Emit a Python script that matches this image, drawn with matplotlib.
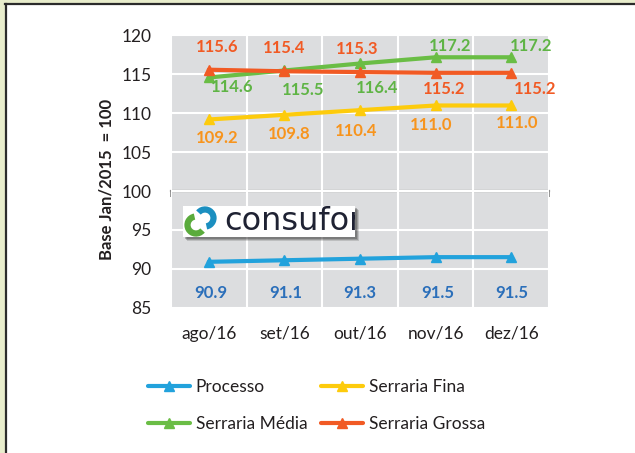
import matplotlib
matplotlib.use("Agg")
import matplotlib.pyplot as plt
from matplotlib.patches import Rectangle, Arc
from matplotlib.lines import Line2D

plt.rcParams['font.family'] = ['Lato', 'DejaVu Sans']

# ---------------- data ----------------
categories = ["ago/16", "set/16", "out/16", "nov/16", "dez/16"]
processo = [90.9, 91.1, 91.3, 91.5, 91.5]
serraria_fina = [109.2, 109.8, 110.4, 111.0, 111.0]
serraria_media = [114.6, 115.5, 116.4, 117.2, 117.2]
serraria_grossa = [115.6, 115.4, 115.3, 115.2, 115.2]
y_ticks = [85, 90, 95, 100, 105, 110, 115, 120]
y_label = "Base Jan/2015  = 100"

# ---------------- styles ----------------
series = [
    ("Processo", processo, "#22a2dc", "#2b6fba",
     [(2, -31), (1, -33), (0, -34), (2, -36), (1, -36)]),
    ("Serraria Fina", serraria_fina, "#fdcb0c", "#f7941d",
     [(8, -19), (5, -19), (-4, -21), (-4, -20), (6, -18)]),
    ("Serraria Média", serraria_media, "#6abd45", "#5fb445",
     [(23, -10), (19, -20), (17, -25), (15, 11), (20, 11)]),
    ("Serraria Grossa", serraria_grossa, "#f15a24", "#f15a24",
     [(8, 23), (0, 23), (-3, 23), (9, -16), (24, -16)]),
]

W, H = 635, 453
fig = plt.figure(figsize=(W / 100, H / 100), dpi=100)
fig.patch.set_facecolor("#e8edcc")

# white panel with dark top/left border
fig.patches.append(Rectangle((5 / W, 0), 1, 1 - 4 / H, transform=fig.transFigure,
                             facecolor="white", edgecolor="none", zorder=-10))
fig.lines.append(Line2D([5.5 / W, 5.5 / W], [0, 1 - 4 / H], transform=fig.transFigure,
                        color="#2b2b2b", lw=1.6, zorder=-9))
fig.lines.append(Line2D([5 / W, 1], [1 - 4.3 / H, 1 - 4.3 / H], transform=fig.transFigure,
                        color="#2b2b2b", lw=1.6, zorder=-9))

ax = fig.add_axes([171 / W, (H - 307.7) / H, (549 - 171) / W, 272.2 / H])
ax.set_facecolor("#dcdddf")
for s in ax.spines.values():
    s.set_visible(False)

x = list(range(len(categories)))
ax.set_xlim(-0.5, len(categories) - 0.5)
ax.set_ylim(85, 120)
ax.set_yticks(y_ticks)
ax.set_xticks(x)
ax.set_xticklabels(categories)
ax.set_xticks([i - 0.5 for i in range(len(categories) + 1)], minor=True)
ax.grid(True, axis="y", which="major", color="white", lw=1.5)
ax.grid(True, axis="x", which="minor", color="white", lw=1.5)
ax.grid(False, axis="x", which="major")
ax.set_axisbelow(True)
ax.tick_params(axis="both", which="both", length=0)
ax.tick_params(axis="y", pad=14, labelsize=12.5, labelcolor="#231f20")
ax.tick_params(axis="x", pad=13, labelsize=12.5, labelcolor="#231f20")
ax.set_ylabel(y_label, fontsize=12, fontweight="bold", color="#231f20")
ax.yaxis.set_label_coords(-0.15, 0.47)

# x axis line at 100 with ticks
sec = ax.secondary_xaxis((100 - 85) / (120 - 85))
sec.set_xticks([i - 0.5 for i in range(len(categories) + 1)])
sec.tick_params(length=4, width=1.3, color="#8c8c8c", labelbottom=False)
sec.spines["bottom"].set_color("#8c8c8c")
sec.spines["bottom"].set_linewidth(1.6)

handles = {}
for name, vals, lc, tc, offs in series:
    ln, = ax.plot(x, vals, color=lc, lw=3.0, marker="^", markersize=7.5,
                  solid_capstyle="round", label=name, zorder=3)
    handles[name] = ln
    for xi, v, (dx, dy) in zip(x, vals, offs):
        ax.annotate(f"{v:.1f}", (xi, v), xytext=(dx * 0.72, dy * 0.72),
                    textcoords="offset points", ha="center", va="center",
                    fontsize=12, fontweight="bold", color=tc, zorder=4)

order = ["Processo", "Serraria Média", "Serraria Fina", "Serraria Grossa"]
fig.legend([handles[n] for n in order], order, ncol=2, loc="upper left",
           bbox_to_anchor=(148 / W, 1 - 379 / H), frameon=False, borderpad=0,
           borderaxespad=0, fontsize=12.5, handlelength=2.4, handletextpad=0.35,
           columnspacing=0.8, labelspacing=1.21, labelcolor="#231f20")

# logo
lx0, ly0, lw_, lh_ = 183, 206, 172, 31
for k, a in ((4, 0.18), (3, 0.25), (2, 0.3)):
    fig.patches.append(Rectangle(((lx0 + k) / W, (H - ly0 - lh_ - k) / H), lw_ / W, lh_ / H,
                                 transform=fig.transFigure, facecolor="#333333", alpha=a,
                                 edgecolor="none", zorder=5))
lax = fig.add_axes([lx0 / W, (H - ly0 - lh_) / H, lw_ / W, lh_ / H], zorder=6)
lax.set_xlim(0, lw_)
lax.set_ylim(0, lh_)
lax.set_facecolor("white")
lax.set_xticks([])
lax.set_yticks([])
for s in lax.spines.values():
    s.set_visible(False)
lax.add_patch(Arc((13, 12), 17, 17, theta1=100, theta2=320, lw=4.5, color="#5aab3c"))
lax.add_patch(Arc((22, 19), 17, 17, theta1=280, theta2=500, lw=4.5, color="#1b8fc0"))
lax.text(41, 15, "consufor", fontsize=23, color="#1f2233", va="center", ha="left",
         family="DejaVu Sans", clip_on=True)

fig.savefig("out.png", dpi=100, facecolor=fig.get_facecolor())
